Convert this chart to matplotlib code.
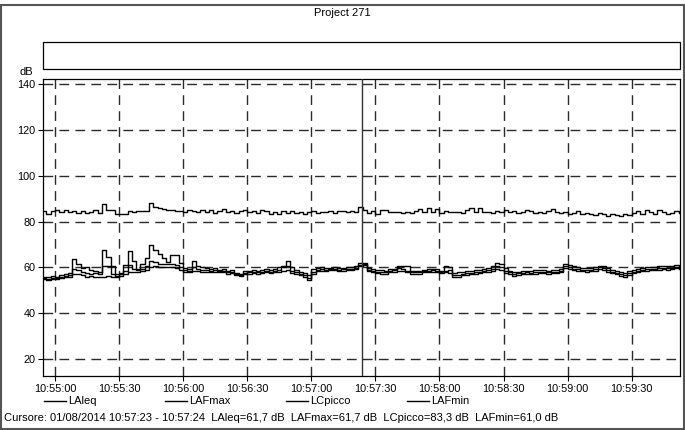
import numpy as np, pandas as pd
import matplotlib
matplotlib.use('Agg')
import matplotlib.pyplot as plt
import matplotlib.dates as mdates
from matplotlib.lines import Line2D
from matplotlib.patches import Rectangle

plt.rcParams.update({'font.family': 'Liberation Sans', 'font.size': 7.5})

# 2-second samples starting 10:54:54
START = '2014-08-01 10:54:54'
STEP_S = 2
LCpicco = [84.5, 83.2, 84.6, 85.0, 84.3, 85.2, 84.0, 84.8, 83.9, 84.4,
           83.6, 84.2, 84.9, 83.8, 87.5, 85.0, 85.0, 83.3, 83.3, 83.5,
           84.6, 84.3, 84.6, 84.4, 84.8, 88.2, 86.3, 86.0, 85.4, 84.9,
           85.1, 84.5, 84.8, 84.2, 85.0, 84.6, 84.1, 85.2, 84.3, 84.9,
           83.9, 84.7, 85.3, 84.0, 84.5, 83.6, 84.8, 85.1, 84.2, 84.6,
           83.8, 84.9, 84.4, 83.5, 84.2, 83.2, 84.6, 83.9, 84.8, 83.7,
           84.3, 83.4, 84.1, 84.7, 83.6, 84.2, 84.0, 84.5, 83.8, 84.4,
           84.8, 84.2, 84.6, 84.3, 86.2, 85.0, 83.9, 84.7, 83.5, 84.9,
           85.2, 84.1, 84.0, 84.3, 83.6, 84.2, 83.9, 84.5, 85.5, 84.0,
           85.8, 84.2, 85.6, 83.8, 84.6, 84.2, 84.0, 84.3, 83.8, 85.0,
           86.0, 84.1, 85.7, 84.0, 84.3, 83.6, 84.5, 84.1, 85.2, 84.0,
           84.4, 83.7, 84.2, 85.1, 84.6, 83.9, 84.3, 83.6, 84.5, 85.4,
           84.0, 83.8, 84.2, 83.5, 83.9, 84.4, 83.2, 83.8, 83.3, 82.9,
           83.6, 83.1, 82.6, 83.3, 82.8, 82.4, 83.5, 82.7, 83.8, 84.6,
           83.3, 85.0, 84.2, 83.5, 85.1, 84.0, 83.1, 83.8, 84.6, 83.9]
LAFmax = [55.6, 56.0, 56.2, 55.8, 56.5, 57.0, 57.6, 63.8, 61.5, 59.8,
          60.2, 59.0, 58.4, 58.2, 67.8, 64.5, 60.8, 57.2, 57.6, 61.0,
          67.2, 63.0, 59.5, 61.5, 64.0, 69.6, 67.5, 65.8, 64.0, 62.5,
          65.5, 65.5, 62.0, 59.6, 59.2, 62.6, 60.4, 60.0, 59.8, 59.3,
          59.6, 59.0, 59.4, 58.4, 58.8, 57.6, 57.2, 58.3, 58.6, 58.8,
          58.5, 59.0, 59.2, 58.8, 59.5, 60.0, 60.8, 62.8, 60.2, 58.8,
          58.2, 57.6, 56.8, 59.2, 59.8, 60.0, 59.7, 59.9, 60.1, 59.6,
          59.9, 60.2, 60.0, 60.5, 62.0, 61.7, 59.6, 59.2, 58.8, 59.0,
          58.6, 59.2, 59.5, 60.8, 60.7, 60.6, 58.6, 58.3, 58.6, 58.9,
          59.2, 59.4, 59.2, 58.6, 60.4, 60.3, 57.6, 57.8, 58.0, 58.3,
          58.5, 58.7, 59.0, 59.4, 59.8, 60.5, 62.0, 61.4, 59.8, 58.6,
          57.8, 58.2, 58.4, 58.6, 58.4, 58.7, 58.8, 59.0, 58.6, 58.8,
          59.0, 59.2, 61.6, 61.0, 60.4, 60.2, 59.8, 59.6, 59.8, 60.0,
          60.8, 60.7, 59.6, 59.0, 58.5, 57.8, 57.4, 58.4, 59.0, 59.4,
          59.8, 60.0, 60.3, 60.2, 60.4, 60.6, 60.4, 60.6, 61.0, 60.6]
LAeq = [55.2, 55.0, 55.4, 55.3, 55.8, 56.2, 56.8, 59.5, 59.0, 58.0,
        57.6, 57.2, 57.4, 57.0, 60.5, 60.8, 57.2, 56.4, 57.0, 58.5,
        61.0, 59.5, 58.8, 59.5, 60.5, 63.0, 62.3, 61.5, 61.5, 61.5,
        61.5, 61.0, 60.0, 59.0, 58.6, 60.0, 59.3, 59.0, 58.8, 58.6,
        58.8, 58.4, 58.5, 57.8, 58.0, 57.0, 56.8, 57.5, 57.8, 58.0,
        57.8, 58.2, 58.4, 58.2, 58.6, 59.0, 60.0, 60.5, 58.4, 57.8,
        57.2, 56.8, 55.5, 58.0, 59.0, 59.2, 59.0, 59.3, 59.4, 59.0,
        59.2, 59.5, 59.3, 59.8, 61.2, 61.5, 59.0, 58.5, 58.2, 58.0,
        58.0, 58.6, 59.0, 59.6, 59.4, 58.6, 58.0, 57.8, 58.0, 58.4,
        58.6, 58.8, 58.6, 58.0, 58.5, 58.8, 56.5, 56.8, 57.2, 57.5,
        57.6, 57.8, 58.0, 58.4, 58.8, 59.2, 60.8, 60.2, 58.5, 57.8,
        57.0, 57.4, 57.6, 57.8, 57.6, 57.9, 58.0, 58.2, 57.8, 58.0,
        58.2, 58.5, 60.8, 60.0, 59.5, 59.3, 59.0, 58.8, 59.0, 59.2,
        60.2, 59.6, 58.8, 58.2, 57.6, 57.0, 56.5, 57.5, 58.2, 58.6,
        59.0, 59.2, 59.5, 59.4, 59.6, 59.8, 59.6, 59.9, 60.2, 59.8]
LAFmin = [54.8, 54.6, 54.9, 54.8, 55.2, 55.6, 56.0, 57.0, 57.2, 56.5,
          56.0, 56.2, 56.0, 56.0, 56.0, 56.2, 56.0, 55.8, 56.2, 57.0,
          58.0, 58.2, 58.0, 58.4, 59.0, 60.0, 60.5, 60.2, 60.0, 60.0,
          60.0, 59.8, 59.0, 58.2, 58.0, 58.6, 58.4, 58.2, 58.0, 58.0,
          58.2, 57.8, 57.9, 57.2, 57.4, 56.5, 56.3, 56.9, 57.2, 57.4,
          57.2, 57.6, 57.8, 57.6, 58.0, 58.2, 58.6, 58.8, 57.6, 57.0,
          56.5, 55.8, 54.4, 57.0, 58.4, 58.6, 58.4, 58.7, 58.8, 58.4,
          58.6, 59.0, 58.8, 59.2, 60.6, 61.0, 58.4, 57.8, 57.5, 57.2,
          57.3, 57.8, 58.2, 58.6, 58.4, 57.8, 57.2, 57.0, 57.3, 57.8,
          58.0, 58.2, 58.0, 57.4, 57.8, 57.6, 55.6, 56.0, 56.5, 56.8,
          57.0, 57.2, 57.4, 57.8, 58.2, 58.5, 59.4, 59.0, 57.6, 57.0,
          56.4, 56.8, 57.0, 57.2, 57.0, 57.3, 57.4, 57.6, 57.2, 57.4,
          57.6, 57.8, 59.8, 59.2, 58.8, 58.6, 58.4, 58.2, 58.4, 58.6,
          59.4, 59.0, 58.2, 57.6, 57.0, 56.4, 55.6, 56.8, 57.6, 58.0,
          58.4, 58.6, 58.9, 58.8, 59.0, 59.2, 59.0, 59.3, 59.6, 59.2]
SERIES = ['LAleq', 'LAFmax', 'LCpicco', 'LAFmin']
Y_TICKS = [20, 40, 60, 80, 100, 120, 140]
CURSOR = '2014-08-01 10:57:23.6'
CURSOR_TEXT = ('Cursore: 01/08/2014 10:57:23 - 10:57:24  LAleq=61,7 dB  LAFmax=61,7 dB  '
               'LCpicco=83,3 dB  LAFmin=61,0 dB')

W, H = 685, 430
def fx(x): return x / W
def fy(y): return 1 - y / H

fig = plt.figure(figsize=(W/100, H/100), dpi=100)
ax = fig.add_axes([fx(43), fy(376), fx(680) - fx(43), fy(79) - fy(376)])

t0 = pd.Timestamp(START)
data = {'LAleq': LAeq, 'LAFmax': LAFmax, 'LCpicco': LCpicco, 'LAFmin': LAFmin}
lines = {}
for name in ['LCpicco', 'LAFmin', 'LAleq', 'LAFmax']:
    v = data[name]
    t = t0 + pd.to_timedelta(np.arange(len(v)) * STEP_S, unit='s')
    lines[name], = ax.step(t, v, where='post', color='black', lw=1.0, zorder=3)

ax.axvline(pd.Timestamp(CURSOR), color='#333333', lw=1.0, zorder=4)

ax.set_xlim(t0 + pd.Timedelta(seconds=0.38), t0 + pd.Timedelta(seconds=298.6))
ax.set_ylim(12.6, 142.2)
ax.set_yticks(Y_TICKS)
ax.xaxis.set_major_locator(mdates.SecondLocator(bysecond=[0, 30]))
ax.xaxis.set_major_formatter(mdates.DateFormatter('%H:%M:%S'))
ax.tick_params(length=3.5, width=0.8, pad=2, colors='black', labelsize=7.8)
ax.grid(True, color='#2a2a2a', lw=1.0, linestyle=(0, (7, 4.5)))
ax.set_axisbelow(True)
for s in ax.spines.values():
    s.set_linewidth(0.9)

# empty box above plot, dB unit, title
fig.add_artist(Rectangle((fx(43), fy(69)), fx(680) - fx(43), fy(42) - fy(69),
                         transform=fig.transFigure, fill=False, ec='black', lw=0.9))
fig.text(fx(26), fy(72), 'dB', ha='center', va='center', fontsize=8)
fig.text(fx(342), fy(13), 'Project 271', ha='center', va='center', fontsize=8)

# legend row
for i, name in enumerate(SERIES):
    x0 = 44 + i * 121
    fig.add_artist(Line2D([fx(x0), fx(x0 + 22)], [fy(401), fy(401)], transform=fig.transFigure,
                          color=lines[name].get_color(), lw=1.0))
    fig.text(fx(x0 + 24), fy(401), name, ha='left', va='center', fontsize=8)

fig.text(fx(4), fy(418), CURSOR_TEXT, ha='left', va='center', fontsize=8)

# outer frame
fig.add_artist(Rectangle((fx(1), fy(429)), fx(684) - fx(1), fy(5) - fy(429),
                         transform=fig.transFigure, fill=False, ec='#555555', lw=1.5))

fig.savefig('out.png', dpi=100)
